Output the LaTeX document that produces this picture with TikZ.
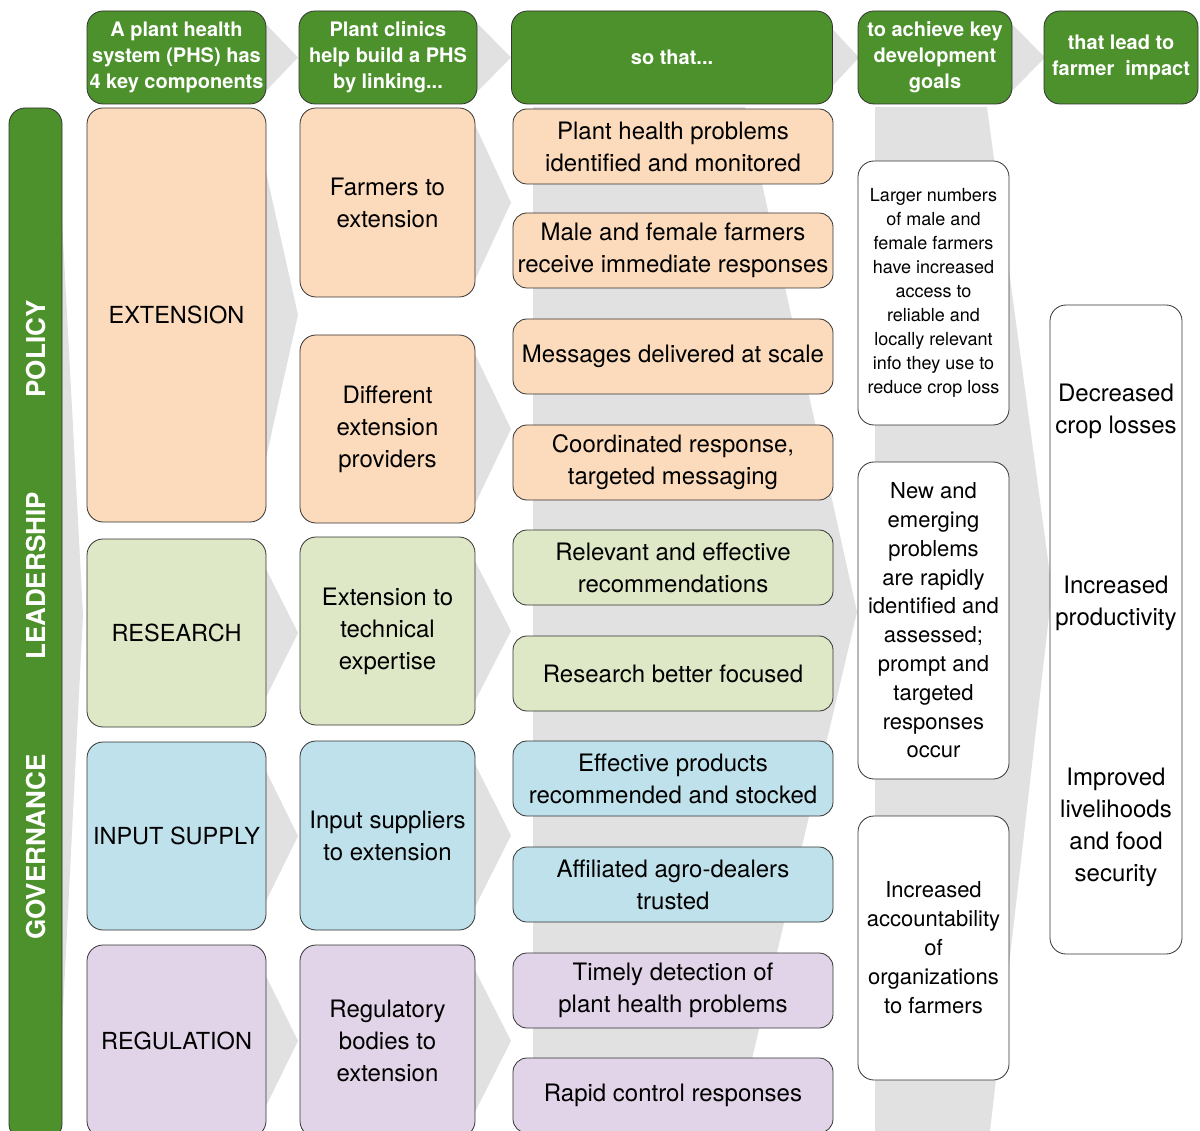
\documentclass[tikz,border=0pt]{standalone}
\usepackage{fontspec}
\setmainfont{TeX Gyre Heros}
\usepackage{tikz}

\definecolor{phsgreen}{RGB}{76,145,43}
\definecolor{peach}{RGB}{252,219,188}
\definecolor{leaf}{RGB}{222,232,198}
\definecolor{sky}{RGB}{190,225,236}
\definecolor{lilac}{RGB}{225,212,232}
\definecolor{chevgrey}{RGB}{225,225,225}

\begin{document}
\begin{tikzpicture}[x=1pt, y=-1pt,
    box/.style={draw=black!80, line width=0.8pt, rounded corners=16pt, align=center, inner sep=2pt, font=\fontsize{24}{32}\selectfont},
    head/.style={box, fill=phsgreen, text=white, minimum height=93pt, font=\bfseries\fontsize{20}{26}\selectfont},
    comp/.style={box, minimum width=179pt, font=\fontsize{23.5}{30}\selectfont},
    link/.style={box, minimum width=175pt},
    goal/.style={box, rounded corners=14pt, minimum width=320pt, minimum height=75pt},
    dev/.style={box, fill=white, minimum width=151pt},
    bartext/.style={text=white, rotate=90, font=\bfseries\fontsize{26}{30}\selectfont},
    chev/.style={fill=chevgrey}]

    \useasboundingbox (0,0) rectangle (1200,1131);

    \fill [chev] (230,22) -- (264,22) -- (298,57.5) -- (264,93) -- (230,93) -- cycle;
    \fill [chev] (440,22) -- (476,22) -- (511,57.5) -- (476,93) -- (440,93) -- cycle;
    \fill [chev] (800,22) -- (826,22) -- (859,57.5) -- (826,93) -- (800,93) -- cycle;
    \fill [chev] (980,22) -- (1010,22) -- (1045,57.5) -- (1010,93) -- (980,93) -- cycle;
    \fill [chev] (45,220) -- (62,220) -- (83,615) -- (62,1030) -- (45,1030) -- cycle;
    \fill [chev] (240,172) -- (266,172) -- (298,315) -- (266,458) -- (240,458) -- cycle;
    \fill [chev] (240,569) -- (266,569) -- (298,633) -- (266,697) -- (240,697) -- cycle;
    \fill [chev] (240,771) -- (266,771) -- (298,836) -- (266,901) -- (240,901) -- cycle;
    \fill [chev] (240,976) -- (266,976) -- (298,1041) -- (266,1106) -- (240,1106) -- cycle;
    \fill [chev] (450,125) -- (475,125) -- (511,202.5) -- (475,280) -- (450,280) -- cycle;
    \fill [chev] (450,354) -- (475,354) -- (511,429) -- (475,504) -- (450,504) -- cycle;
    \fill [chev] (450,561) -- (475,561) -- (511,631) -- (475,701) -- (450,701) -- cycle;
    \fill [chev] (450,764) -- (475,764) -- (511,835.5) -- (475,907) -- (450,907) -- cycle;
    \fill [chev] (450,970) -- (475,970) -- (511,1041) -- (475,1112) -- (450,1112) -- cycle;
    \fill [chev] (533,107) -- (745,107) -- (857,612) -- (733,1140) -- (533,1140) -- cycle;
    \fill [chev] (875,107) -- (987,107) -- (1052,590) -- (989,1140) -- (875,1140) -- cycle;

    \node [head, minimum width=179pt] (h1) at (176.5,57.5) {A plant health\\system (PHS) has\\4 key components};
    \node [head, minimum width=178pt] (h2) at (388,57.5) {Plant clinics\\help build a PHS\\by linking...};
    \node [head, minimum width=321pt] (h3) at (672,57.5) {so that...};
    \node [head, minimum width=154pt] (h4) at (935,57.5) {to achieve key\\development\\goals};
    \node [head, minimum width=154pt] (h5) at (1121,57.5) {that lead to\\farmer\ \ impact};

    \node [box, fill=phsgreen, minimum width=53pt, minimum height=1032pt] (bar) at (35.5,624) {};
    \node [bartext] (pol) at (36,349) {POLICY};
    \node [bartext] (lea) at (36,576) {LEADERSHIP};
    \node [bartext] (gov) at (36,847) {GOVERNANCE};

    \node [comp, fill=peach, minimum height=414pt] (ext) at (176.5,315) {EXTENSION};
    \node [comp, fill=leaf, minimum height=188pt] (res) at (176.5,633) {RESEARCH};
    \node [comp, fill=sky, minimum height=188pt] (inp) at (176.5,836) {INPUT SUPPLY};
    \node [comp, fill=lilac, minimum height=192pt] (reg) at (176.5,1041) {REGULATION};

    \node [link, fill=peach, minimum height=189pt] (fte) at (387.5,202.5) {Farmers to\\extension};
    \node [link, fill=peach, minimum height=188pt] (dep) at (387.5,429) {Different\\extension\\providers};
    \node [link, fill=leaf, minimum height=188pt] (ete) at (387.5,631) {Extension to\\technical\\expertise};
    \node [link, fill=sky, minimum height=189pt] (ise) at (387.5,835.5) {Input suppliers\\to extension};
    \node [link, fill=lilac, minimum height=192pt] (rbe) at (387.5,1041) {Regulatory\\bodies to\\extension};

    \node [goal, fill=peach] (ph) at (673,146.5) {Plant health problems\\identified and monitored};
    \node [goal, fill=peach] (mf) at (673,250.5) {Male and female farmers\\receive immediate responses};
    \node [goal, fill=peach] (md) at (673,356.5) {Messages delivered at scale};
    \node [goal, fill=peach] (cr) at (673,462.5) {Coordinated response,\\targeted messaging};
    \node [goal, fill=leaf] (re) at (673,567.5) {Relevant and effective\\recommendations};
    \node [goal, fill=leaf] (rb) at (673,673.5) {Research better focused};
    \node [goal, fill=sky] (ep) at (673,778.5) {Effective products\\recommended and stocked};
    \node [goal, fill=sky] (ad) at (673,884.5) {Affiliated agro-dealers\\trusted};
    \node [goal, fill=lilac] (td) at (673,990.5) {Timely detection of\\plant health problems};
    \node [goal, fill=lilac] (rc) at (673,1095.5) {Rapid control responses};

    \node [dev, minimum height=264pt, font=\fontsize{18}{24}\selectfont] (g1) at (933.5,293) {Larger numbers\\of male and\\female farmers\\have increased\\access to\\reliable and\\locally relevant\\info they use to\\reduce crop loss};
    \node [dev, minimum height=317pt, font=\fontsize{22}{28.8}\selectfont] (g2) at (933.5,620.5) {New and\\emerging\\problems\\are rapidly\\identified and\\assessed;\\prompt and\\targeted\\responses\\occur};
    \node [dev, minimum height=264pt, font=\fontsize{22}{29}\selectfont] (g3) at (933.5,948) {Increased\\accountability\\of\\organizations\\to farmers};

    \node [box, fill=white, minimum width=132pt, minimum height=649pt] (imp) at (1116,629.5) {};
    \node [align=center, font=\fontsize{24}{32}\selectfont] (i1) at (1116,411) {Decreased\\crop losses};
    \node [align=center, font=\fontsize{24}{32}\selectfont] (i2) at (1116,603) {Increased\\productivity};
    \node [align=center, font=\fontsize{24}{32}\selectfont] (i3) at (1116,827) {Improved\\livelihoods\\and food\\security};

\end{tikzpicture}
\end{document}
